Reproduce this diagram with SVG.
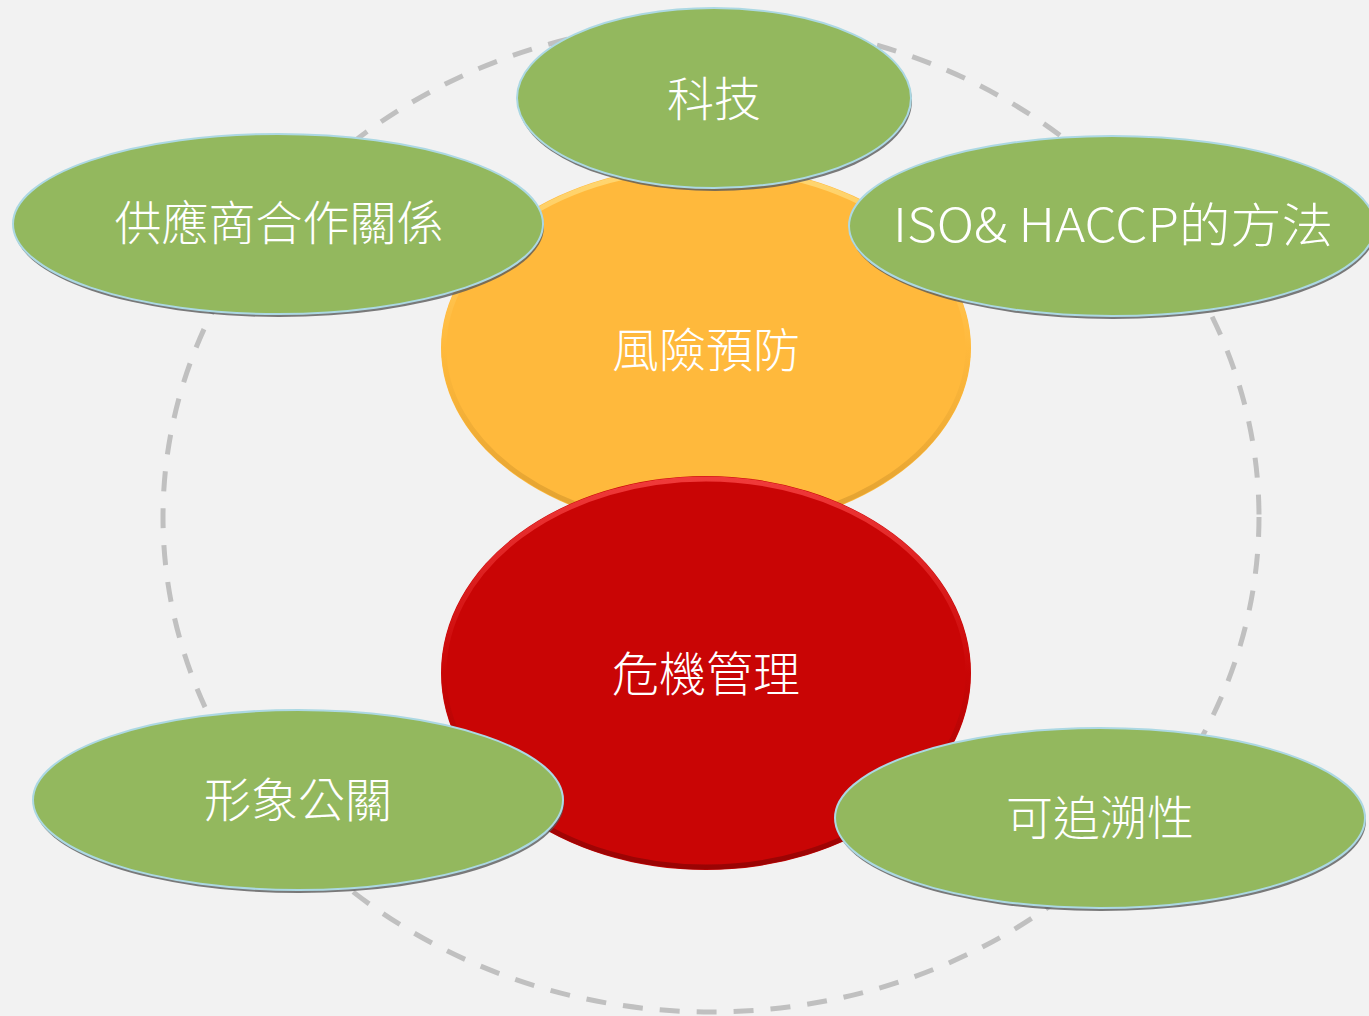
<svg xmlns="http://www.w3.org/2000/svg" width="1369" height="1016" viewBox="0 0 1369 1016">
  <defs>
    <linearGradient id="redEdge" x1="0" y1="0" x2="0" y2="1">
      <stop offset="0" stop-color="#f03a3a"/>
      <stop offset="0.5" stop-color="#c90505"/>
      <stop offset="1" stop-color="#9a0404"/>
    </linearGradient>
    <linearGradient id="orEdge" x1="0" y1="0" x2="0" y2="1">
      <stop offset="0" stop-color="#ffd773"/>
      <stop offset="0.5" stop-color="#ffb93c"/>
      <stop offset="1" stop-color="#e0a030"/>
    </linearGradient>
    <style>
      .ring { fill: none; stroke: #c0c0c0; stroke-width: 5; stroke-dasharray: 20 17; }
      .green { fill: #93b85e; stroke: #acd8e3; stroke-width: 2; }
      .shadow { fill: #5a5a5a; opacity: 0.8; }
      .lbl { fill: #ffffff; font-family: "Noto Sans CJK TC", "Noto Sans", sans-serif; font-weight: 300; font-size: 47px; text-anchor: middle; }
    </style>
  </defs>
  <rect width="1369" height="1016" fill="#f2f2f2"/>

  <g id="connectors">
    <ellipse class="ring" cx="711" cy="517" rx="548" ry="495"/>
  </g>

  <g id="node-risk">
    <ellipse cx="706" cy="348" rx="265" ry="183" fill="#ffb93c"/>
    <ellipse cx="706" cy="348" rx="262" ry="180" fill="none" stroke="url(#orEdge)" stroke-width="5"/>
    <text class="lbl" x="706" y="367">風險預防</text>
  </g>

  <g id="node-crisis">
    <ellipse cx="706" cy="673" rx="265" ry="197" fill="#c90505"/>
    <ellipse cx="706" cy="673" rx="262" ry="194" fill="none" stroke="url(#redEdge)" stroke-width="5"/>
    <text class="lbl" x="706" y="691">危機管理</text>
  </g>

  <g id="node-tech">
    <ellipse class="shadow" cx="715" cy="101" rx="197" ry="90"/>
    <ellipse class="green" cx="714" cy="98" rx="197" ry="90"/>
    <text class="lbl" x="714" y="116">科技</text>
  </g>

  <g id="node-supplier">
    <ellipse class="shadow" cx="279" cy="227" rx="265" ry="90"/>
    <ellipse class="green" cx="278" cy="224" rx="265" ry="90"/>
    <text class="lbl" x="279" y="240">供應商合作關係</text>
  </g>

  <g id="node-iso">
    <ellipse class="shadow" cx="1113" cy="229" rx="263" ry="90"/>
    <ellipse class="green" cx="1112" cy="226" rx="263" ry="90"/>
    <text class="lbl" x="1113" y="242" textLength="440" lengthAdjust="spacingAndGlyphs">ISO&amp; HACCP的方法</text>
  </g>

  <g id="node-image">
    <ellipse class="shadow" cx="299" cy="803" rx="265" ry="90"/>
    <ellipse class="green" cx="298" cy="800" rx="265" ry="90"/>
    <text class="lbl" x="298" y="817">形象公關</text>
  </g>

  <g id="node-trace">
    <ellipse class="shadow" cx="1101" cy="821" rx="265" ry="90"/>
    <ellipse class="green" cx="1100" cy="818" rx="265" ry="90"/>
    <text class="lbl" x="1100" y="835">可追溯性</text>
  </g>
</svg>
